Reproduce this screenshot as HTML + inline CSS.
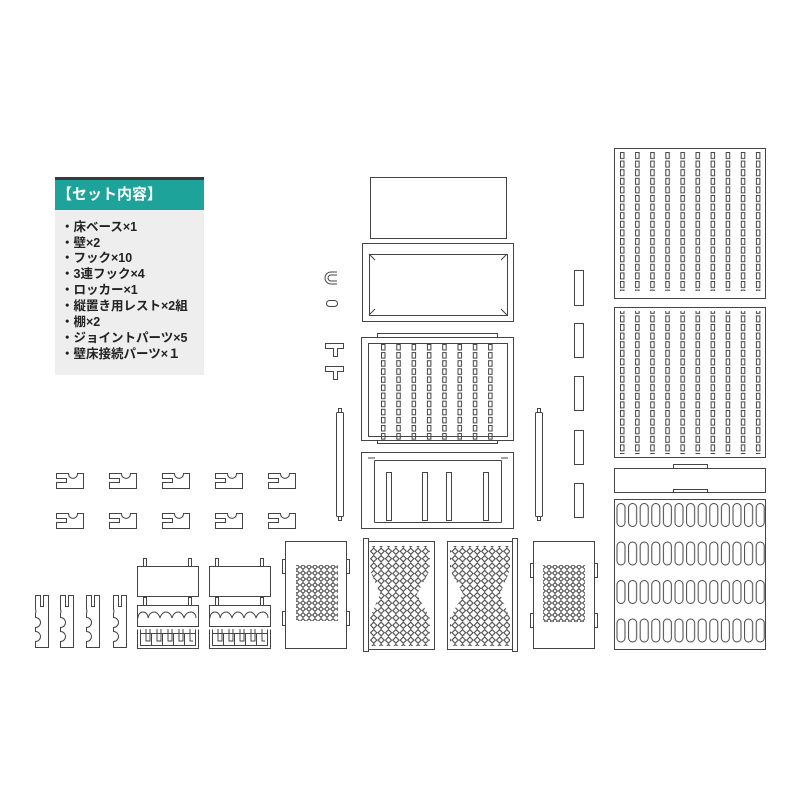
<!DOCTYPE html>
<html><head><meta charset="utf-8"><style>
body{margin:0;background:#fff;width:800px;height:800px;overflow:hidden;position:relative;font-family:"Liberation Sans","Noto Sans CJK JP",sans-serif}
.box{position:absolute;left:55px;top:177px;width:149px;height:198px;background:#eeeeee}
.bar{height:3px;background:#3a3a3a}
.hd{height:30px;background:#1ea39b;color:#fff;font-weight:bold;font-size:15px;line-height:30px;padding-left:2px}
.it{font-size:12.5px;font-weight:bold;color:#222;position:absolute;left:6px;white-space:nowrap;line-height:14px}
svg{position:absolute;left:0;top:0}
</style></head><body>
<div class="box"><div class="bar"></div><div class="hd">【セット内容】</div>
<div class="it" style="top:43px">・床ベース×1</div>
<div class="it" style="top:59px">・壁×2</div>
<div class="it" style="top:74px">・フック×10</div>
<div class="it" style="top:90px">・3連フック×4</div>
<div class="it" style="top:106px">・ロッカー×1</div>
<div class="it" style="top:122px">・縦置き用レスト×2組</div>
<div class="it" style="top:138px">・棚×2</div>
<div class="it" style="top:154px">・ジョイントパーツ×5</div>
<div class="it" style="top:170px">・壁床接続パーツ×１</div>
</div>
<svg width="800" height="800" viewBox="0 0 800 800" fill="none" stroke="#444" stroke-width="1">
<defs>
<pattern id="slot8" x="381" y="344" width="15.3" height="8.1" patternUnits="userSpaceOnUse"><rect x="0.5" y="0.5" width="3.5" height="5.5" stroke="#444" fill="none"/></pattern>
<pattern id="slot10" x="620" y="152" width="15.1" height="8.6" patternUnits="userSpaceOnUse"><rect x="0.5" y="0.5" width="3.5" height="6" stroke="#444" fill="none"/></pattern>
<pattern id="oval" x="615.5" y="503" width="11.6" height="38.5" patternUnits="userSpaceOnUse"><rect x="1.5" y="0.5" width="8" height="23" rx="4" stroke="#444" fill="none"/></pattern>
<pattern id="dia" x="0" y="0" width="6" height="6" patternUnits="userSpaceOnUse"><path d="M3 0.6L5.4 3 3 5.4 0.6 3Z" stroke="#444" stroke-width="1"/></pattern>
<pattern id="dia2" x="0" y="0" width="7.4" height="7.4" patternUnits="userSpaceOnUse"><path d="M3.7 0.6L6.8 3.7 3.7 6.8 0.6 3.7Z" stroke="#444" stroke-width="1.1"/></pattern>
</defs>
<rect x="370.5" y="177.5" width="136" height="61"/>
<rect x="362.5" y="243.5" width="151" height="78"/>
<rect x="369.5" y="254.5" width="138" height="61"/>
<path d="M369 254l6 6M507 254l-6 6M369 315l6-6M507 315l-6-6"/>
<path d="M377.5 337V333.5H497.5V337"/>
<rect x="361.5" y="337.5" width="152" height="103"/>
<rect x="368.5" y="343.5" width="139" height="93"/>
<path d="M377.5 440.5V443.5H497.5V440.5"/>
<rect x="381" y="344" width="122" height="97" fill="url(#slot8)" stroke="none"/>
<rect x="361.5" y="452.5" width="152" height="76"/>
<path d="M374.5 460.5H501.5M374.5 522.5H501.5M374.5 460.5V522.5M501.5 460.5V522.5M368 458h7M501 458h7"/>
<rect x="386.5" y="472.5" width="5" height="48"/><rect x="422.5" y="472.5" width="5" height="48"/><rect x="446.5" y="472.5" width="5" height="48"/><rect x="483.5" y="472.5" width="5" height="48"/>
<path d="M337 272H331a5 5 0 0 0 0 12H337M337 275H331a2.5 2.5 0 0 0 0 6H337"/>
<rect x="326.5" y="300.5" width="11" height="6" rx="3"/>
<path d="M325.5 343.5H343.5V348.5H337.5V356.5H333.5V348.5H325.5Z"/>
<path d="M325.5 366.5H343.5V371.5H337.5V379.5H333.5V371.5H325.5Z"/>
<rect x="336.5" y="412.5" width="7" height="104" rx="1"/><rect x="338.5" y="408.5" width="3" height="4"/><rect x="338.5" y="516.5" width="3" height="4"/>
<rect x="535.5" y="412.5" width="7" height="104" rx="1"/><rect x="537.5" y="408.5" width="3" height="4"/><rect x="537.5" y="516.5" width="3" height="4"/>
<rect x="574.5" y="270.5" width="9" height="35"/><rect x="574.5" y="323.5" width="9" height="34"/><rect x="574.5" y="376.5" width="9" height="34"/><rect x="574.5" y="430.5" width="9" height="34"/><rect x="574.5" y="483.5" width="9" height="34"/>
<rect x="614.5" y="148.5" width="151" height="150"/>
<rect x="620" y="152" width="150" height="139" fill="url(#slot10)" stroke="none"/>
<rect x="614.5" y="307.5" width="151" height="150"/>
<rect x="620" y="311" width="150" height="143" fill="url(#slot10)" stroke="none"/>
<path d="M673.5 468V464.5H707.5V468"/>
<rect x="614.5" y="468.5" width="151" height="24"/>
<path d="M673.5 492V489.5H707.5V492"/>
<rect x="614.5" y="499.5" width="151" height="150"/>
<rect x="615" y="503" width="150" height="140" fill="url(#oval)" stroke="none"/>
<g id="hk"><path d="M56.5 473.5H68.5C68.5 480 77.5 480 77.5 473.5H83.5V488.5H56.5V482.5H66.5V478.5H56.5Z"/></g>
<use href="#hk" x="53"/><use href="#hk" x="106"/><use href="#hk" x="159"/><use href="#hk" x="212"/>
<use href="#hk" y="40"/><use href="#hk" x="53" y="40"/><use href="#hk" x="106" y="40"/><use href="#hk" x="159" y="40"/><use href="#hk" x="212" y="40"/>
<g id="th"><path d="M35.5 595.5H40.5V606.5H43.5V595.5H48.5V647.5H35.5V641.5A5 5 0 0 0 35.5 631.5V627.5A5 5 0 0 0 35.5 617.5V613.5A5 5 0 0 0 35.5 609.5Z"/></g>
<use href="#th" x="25"/><use href="#th" x="51"/><use href="#th" x="78"/>
<g id="sh">
<rect x="137.5" y="566.5" width="61" height="30"/>
<rect x="143.5" y="558.5" width="3" height="8"/><rect x="188.5" y="558.5" width="3" height="8"/>
<rect x="143.5" y="597.5" width="3" height="8"/><rect x="188.5" y="597.5" width="3" height="8"/>
<path d="M137.5 605.5H198.5V626.5H137.5Z"/>
<path d="M138 618c0-8 10-8 10 0c2-8 10-8 12 0c2-8 10-8 12 0c2-8 10-8 12 0c2-8 12-8 12 0"/>
<path d="M137.5 629.5V648.5H198.5V629.5M140.5 629.5V645.5H195.5V629.5M140.5 633.5H195.5M151.5 633V645M162.5 633V645M173.5 633V645M184.5 633V645M146 629V641H150V629M157 629V641H161V629M168 629V641H172V629M179 629V641H183V629M190 629V641H193"/>
</g>
<use href="#sh" x="72"/>
<rect x="285.5" y="541.5" width="61" height="107"/>
<rect x="282.5" y="559.5" width="3" height="14"/><rect x="282.5" y="611.5" width="3" height="14"/>
<rect x="346.5" y="559.5" width="3" height="14"/><rect x="346.5" y="611.5" width="3" height="14"/>
<rect x="296" y="565" width="42" height="56" fill="url(#dia)" stroke="none"/>
<rect x="363.5" y="538.5" width="5" height="113"/>
<rect x="368.5" y="541.5" width="66" height="108"/>
<polygon points="370,546 430,546 430,570 417,594 430,618 430,646 370,646 370,618 380,594 370,570" fill="url(#dia2)" stroke="none"/>
<rect x="512.5" y="538.5" width="5" height="113"/>
<rect x="447.5" y="541.5" width="65" height="108"/>
<polygon points="450,546 510,546 510,570 500,594 510,618 510,646 450,646 450,618 463,594 450,570" fill="url(#dia2)" stroke="none"/>
<rect x="533.5" y="541.5" width="61" height="107"/>
<rect x="530.5" y="563.5" width="3" height="14"/><rect x="530.5" y="613.5" width="3" height="14"/>
<rect x="594.5" y="563.5" width="3" height="14"/><rect x="594.5" y="613.5" width="3" height="14"/>
<rect x="543" y="565" width="42" height="57" fill="url(#dia)" stroke="none"/>
</svg>
</body></html>
